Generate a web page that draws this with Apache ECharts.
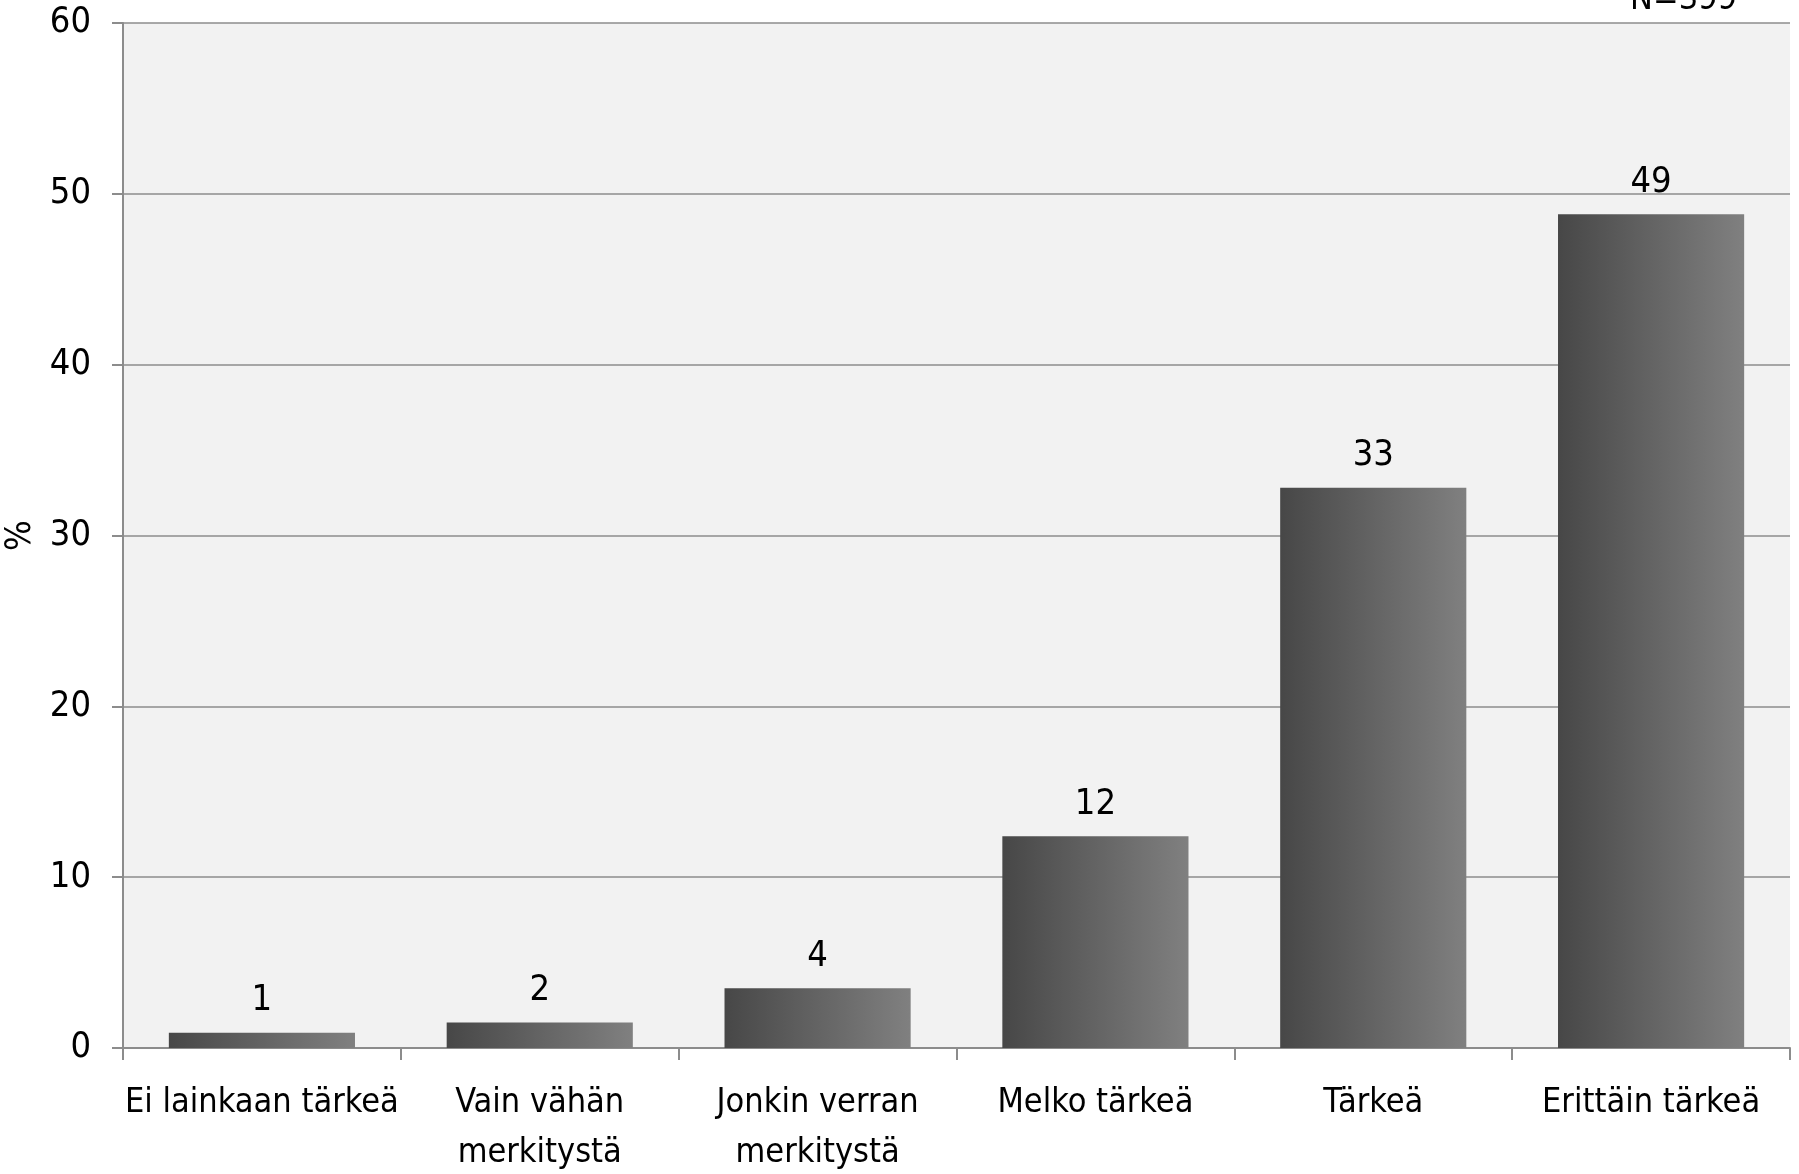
<!DOCTYPE html>
<html>
<head>
<meta charset="utf-8">
<style>
html,body{margin:0;padding:0;background:#fff;}
#chart{width:1799px;height:1174px;}
</style>
<script src="https://cdn.jsdelivr.net/npm/echarts@6/dist/echarts.min.js"></script>
</head>
<body>
<div id="chart"></div>
<script>
const categories = ['Ei lainkaan tärkeä', 'Vain vähän\nmerkitystä', 'Jonkin verran\nmerkitystä', 'Melko tärkeä', 'Tärkeä', 'Erittäin tärkeä'];
const values = [0.9, 1.5, 3.5, 12.4, 32.8, 48.8];
const valueLabels = ['1', '2', '4', '12', '33', '49'];
const yTicks = [0, 10, 20, 30, 40, 50, 60];
const FONT = '"Liberation Sans Narrow", "DejaVu Sans Condensed", sans-serif';

const chart = echarts.init(document.getElementById('chart'));
chart.setOption({
  animation: false,
  backgroundColor: '#ffffff',
  grid: {left: 123, right: 9, top: 23, bottom: 126, show: true, backgroundColor: '#f2f2f2', borderWidth: 0,
         containLabel: false, outerBoundsMode: 'none'},
  xAxis: {
    type: 'category',
    data: categories,
    axisLine: {show: true, lineStyle: {color: '#8c8c8c', width: 2}},
    axisTick: {show: true, length: 12, lineStyle: {color: '#8c8c8c', width: 2}},
    axisLabel: {color: '#000', fontSize: 34, fontFamily: FONT, margin: 30, lineHeight: 50, interval: 0}
  },
  yAxis: {
    type: 'value',
    min: yTicks[0], max: yTicks[yTicks.length - 1], interval: 10,
    name: '%', nameLocation: 'middle', nameGap: 78, nameRotate: 90,
    nameTextStyle: {color: '#000', fontSize: 36, fontFamily: FONT},
    axisLine: {show: true, lineStyle: {color: '#8c8c8c', width: 2}},
    axisTick: {show: true, length: 11, lineStyle: {color: '#8c8c8c', width: 2}},
    splitLine: {show: true, lineStyle: {color: '#8c8c8c', width: 1.5}},
    axisLabel: {color: '#000', fontSize: 36, fontFamily: FONT, margin: 32}
  },
  series: [{
    type: 'bar',
    data: values,
    barCategoryGap: '33%',
    itemStyle: {
      color: new echarts.graphic.LinearGradient(0, 0, 1, 0, [
        {offset: 0, color: '#474747'},
        {offset: 1, color: '#808080'}
      ])
    },
    label: {
      show: true, position: 'top', distance: 14,
      color: '#000', fontSize: 36, fontFamily: FONT,
      formatter: p => valueLabels[p.dataIndex]
    }
  }],
  graphic: [{
    type: 'text', right: 62, top: -17,
    style: {text: 'N=399', fill: '#000', fontSize: 34, fontFamily: FONT}
  }]
});
</script>
</body>
</html>
